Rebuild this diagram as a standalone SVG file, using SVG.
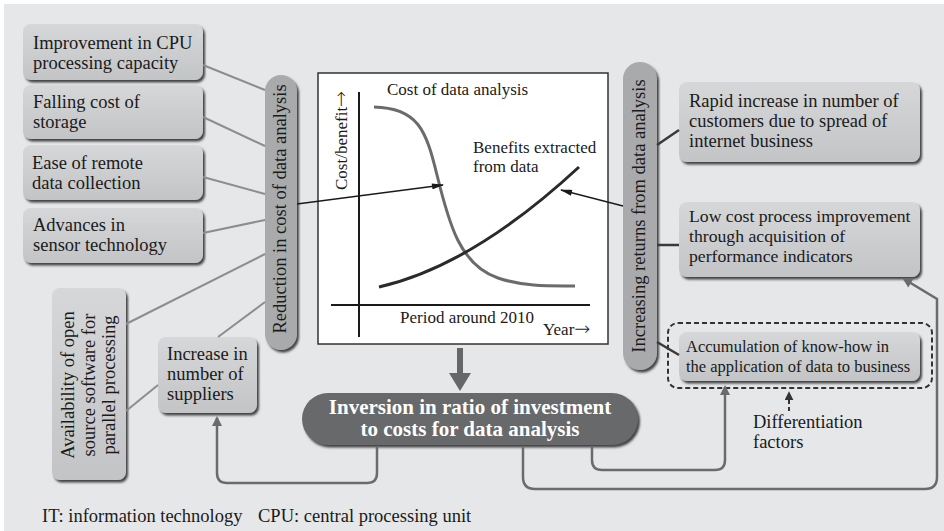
<svg xmlns="http://www.w3.org/2000/svg" width="944" height="531" viewBox="0 0 944 531">
<style>
text{font-family:"Liberation Serif","Times New Roman",serif;fill:#1a1a1a}
.t{font-size:18.5px}
.m{font-size:17.7px}
.c{font-size:17px}
.s{font-size:16.5px}
.ar{font-family:"DejaVu Sans",sans-serif;font-size:19px;font-weight:200}
.box{fill:url(#gb);filter:url(#sh)}
.pill{fill:#a9aaac;filter:url(#sh)}
.gl{stroke:#8c8d8f;stroke-width:2;fill:none}
.dl{stroke:#3a3a3a;stroke-width:2.5;fill:none}
.fb{stroke:#6b6b6d;stroke-width:2.5;fill:none;marker-end:url(#ag)}
</style>
<defs>
<linearGradient id="gb" x1="0" y1="0" x2="0" y2="1">
<stop offset="0" stop-color="#d6d7d8"/>
<stop offset="1" stop-color="#c3c4c6"/>
</linearGradient>
<filter id="sh" x="-10%" y="-10%" width="125%" height="130%">
<feDropShadow dx="2" dy="2.5" stdDeviation="1.2" flood-color="#333333" flood-opacity="0.9"/>
</filter>
<marker id="ag" viewBox="0 0 10 10" refX="8" refY="5" markerWidth="11" markerHeight="10" markerUnits="userSpaceOnUse" orient="auto">
<path d="M0,0 L10,5 L0,10 z" fill="#6b6b6d"/>
</marker>
<marker id="ab" viewBox="0 0 12 6" refX="11" refY="3" markerWidth="13" markerHeight="6" markerUnits="userSpaceOnUse" orient="auto">
<path d="M0,0 L12,3 L0,6 z" fill="#1a1a1a"/>
</marker>
<marker id="ad" viewBox="0 0 10 10" refX="8" refY="5" markerWidth="9" markerHeight="9" markerUnits="userSpaceOnUse" orient="auto">
<path d="M0,0 L10,5 L0,10 z" fill="#333"/>
</marker>
</defs>
<rect x="0" y="0" width="944" height="531" fill="#ffffff"/>
<rect x="4" y="4" width="940" height="527" fill="#e6e7e8"/>

<g id="cpu">
<rect class="box" x="23" y="24" width="180" height="56" rx="8"/>
<text class="t" x="33" y="49">Improvement in CPU</text>
<text class="t" x="33" y="69">processing capacity</text>
</g>
<g id="storage">
<rect class="box" x="23" y="85" width="180" height="54" rx="8"/>
<text class="t" x="33" y="108">Falling cost of</text>
<text class="t" x="33" y="128">storage</text>
</g>
<g id="remote">
<rect class="box" x="23" y="145" width="180" height="55" rx="8"/>
<text class="t" x="32" y="169">Ease of remote</text>
<text class="t" x="32" y="189">data collection</text>
</g>
<g id="sensor">
<rect class="box" x="23" y="208" width="180" height="55" rx="8"/>
<text class="t" x="33" y="231">Advances in</text>
<text class="t" x="33" y="251">sensor technology</text>
</g>
<g id="opensource">
<rect class="box" x="52" y="288" width="74" height="192" rx="8"/>
<g transform="translate(74,385) rotate(-90)"><text class="t" x="0" y="0" text-anchor="middle">Availability of open</text></g>
<g transform="translate(95,385) rotate(-90)"><text class="t" x="0" y="0" text-anchor="middle">source software for</text></g>
<g transform="translate(115,385) rotate(-90)"><text class="t" x="0" y="0" text-anchor="middle">parallel processing</text></g>
</g>
<g id="suppliers">
<rect class="box" x="158" y="337" width="99" height="76" rx="8"/>
<text class="t" x="167" y="360">Increase in</text>
<text class="t" x="167" y="380">number of</text>
<text class="t" x="167" y="400">suppliers</text>
</g>
<g id="reduction">
<rect class="pill" x="265" y="75" width="32" height="275" rx="16"/>
<g transform="translate(286,209) rotate(-90)"><text class="t" x="0" y="0" text-anchor="middle">Reduction in cost of data analysis</text></g>
</g>

<g id="chart">
<rect x="318" y="73" width="290" height="271" fill="#ffffff" stroke="#333" stroke-width="1.5"/>
<line x1="359" y1="92" x2="359" y2="337" stroke="#1a1a1a" stroke-width="2"/>
<line x1="331" y1="305" x2="590" y2="305" stroke="#1a1a1a" stroke-width="2"/>
<path d="M374,107 C418,108 426,130 437,175 C449,224 460,265 498,278 C525,287 550,286 575,286" fill="none" stroke="#6b6b6d" stroke-width="3"/>
<path d="M379,287 Q472,266 579,167" fill="none" stroke="#2a2a2a" stroke-width="3"/>
<text class="c" x="387" y="95">Cost of data analysis</text>
<text class="c" x="473" y="153">Benefits extracted</text>
<text class="c" x="473" y="172">from data</text>
<g transform="translate(347,190) rotate(-90)"><text class="c" x="0" y="0">Cost/benefit<tspan class="ar">→</tspan></text></g>
<text class="c" x="400" y="323">Period around 2010</text>
<text class="c" x="543" y="335">Year<tspan class="ar">→</tspan></text>
</g>

<g id="inversion">
<rect x="302" y="393" width="336" height="52" rx="26" fill="#68696b" filter="url(#sh)"/>
<text x="470" y="414" text-anchor="middle" font-size="21" font-weight="bold" style="fill:#ffffff">Inversion in ratio of investment</text>
<text x="470" y="436" text-anchor="middle" font-size="21" font-weight="bold" style="fill:#ffffff">to costs for data analysis</text>
</g>

<g id="returns">
<rect class="pill" x="623" y="62" width="34" height="308" rx="17"/>
<g transform="translate(645,216) rotate(-90)"><text class="t" x="0" y="0" text-anchor="middle">Increasing returns from data analysis</text></g>
</g>
<g id="customers">
<rect class="box" x="679" y="82" width="241" height="80" rx="8"/>
<text class="t" x="689" y="107">Rapid increase in number of</text>
<text class="t" x="689" y="127">customers due to spread of</text>
<text class="t" x="689" y="147">internet business</text>
</g>
<g id="process">
<rect class="box" x="679" y="202" width="241" height="75" rx="8"/>
<text class="m" x="689" y="222">Low cost process improvement</text>
<text class="m" x="689" y="242">through acquisition of</text>
<text class="m" x="689" y="262">performance indicators</text>
</g>
<g id="knowhow">
<rect x="668" y="323" width="264" height="65" rx="10" fill="none" stroke="#333" stroke-width="2" stroke-dasharray="5,3"/>
<rect class="box" x="679" y="332" width="241" height="49" rx="8"/>
<text class="s" x="686" y="352">Accumulation of know-how in</text>
<text class="s" x="686" y="372">the application of data to business</text>
</g>
<g id="differentiation">
<text class="t" x="753" y="428">Differentiation</text>
<text class="t" x="753" y="448">factors</text>
</g>
<g id="footnote">
<text class="t" x="42" y="522">IT: information technology</text>
<text class="t" x="258" y="522">CPU: central processing unit</text>
</g>

<g id="connectors">
<line class="gl" x1="203" y1="65" x2="265" y2="90"/>
<line class="gl" x1="203" y1="117" x2="265" y2="146"/>
<line class="gl" x1="203" y1="177" x2="265" y2="194"/>
<line class="gl" x1="203" y1="233" x2="265" y2="220"/>
<line class="gl" x1="126" y1="324" x2="265" y2="254"/>
<line class="gl" x1="218" y1="337" x2="265" y2="302"/>
<line class="gl" x1="126" y1="411" x2="158" y2="385"/>
<line class="dl" x1="657" y1="145" x2="679" y2="130"/>
<line class="dl" x1="657" y1="245" x2="679" y2="245"/>
<line class="dl" x1="657" y1="342" x2="679" y2="355"/>
<line x1="297" y1="204" x2="443" y2="185" stroke="#1a1a1a" stroke-width="1.3" marker-end="url(#ab)"/>
<line x1="623" y1="206" x2="561" y2="190" stroke="#1a1a1a" stroke-width="1.3" marker-end="url(#ab)"/>
<path class="fb" d="M377,446 V473 Q377,483 367,483 H227 Q217,483 217,473 V418"/>
<path class="fb" d="M592,446 V460 Q592,470 602,470 H715 Q725,470 725,460 V387"/>
<path class="fb" d="M523,446 V477 Q523,489 535,489 H925 Q937,489 937,477 V299 L904,279"/>
<path d="M789,411 V393" stroke="#333" stroke-width="2" stroke-dasharray="4,3" fill="none" marker-end="url(#ad)"/>
<rect x="457" y="348" width="6" height="27" fill="#666769"/>
<polygon points="449,373 471,373 460,391" fill="#666769"/>
</g>
</svg>
